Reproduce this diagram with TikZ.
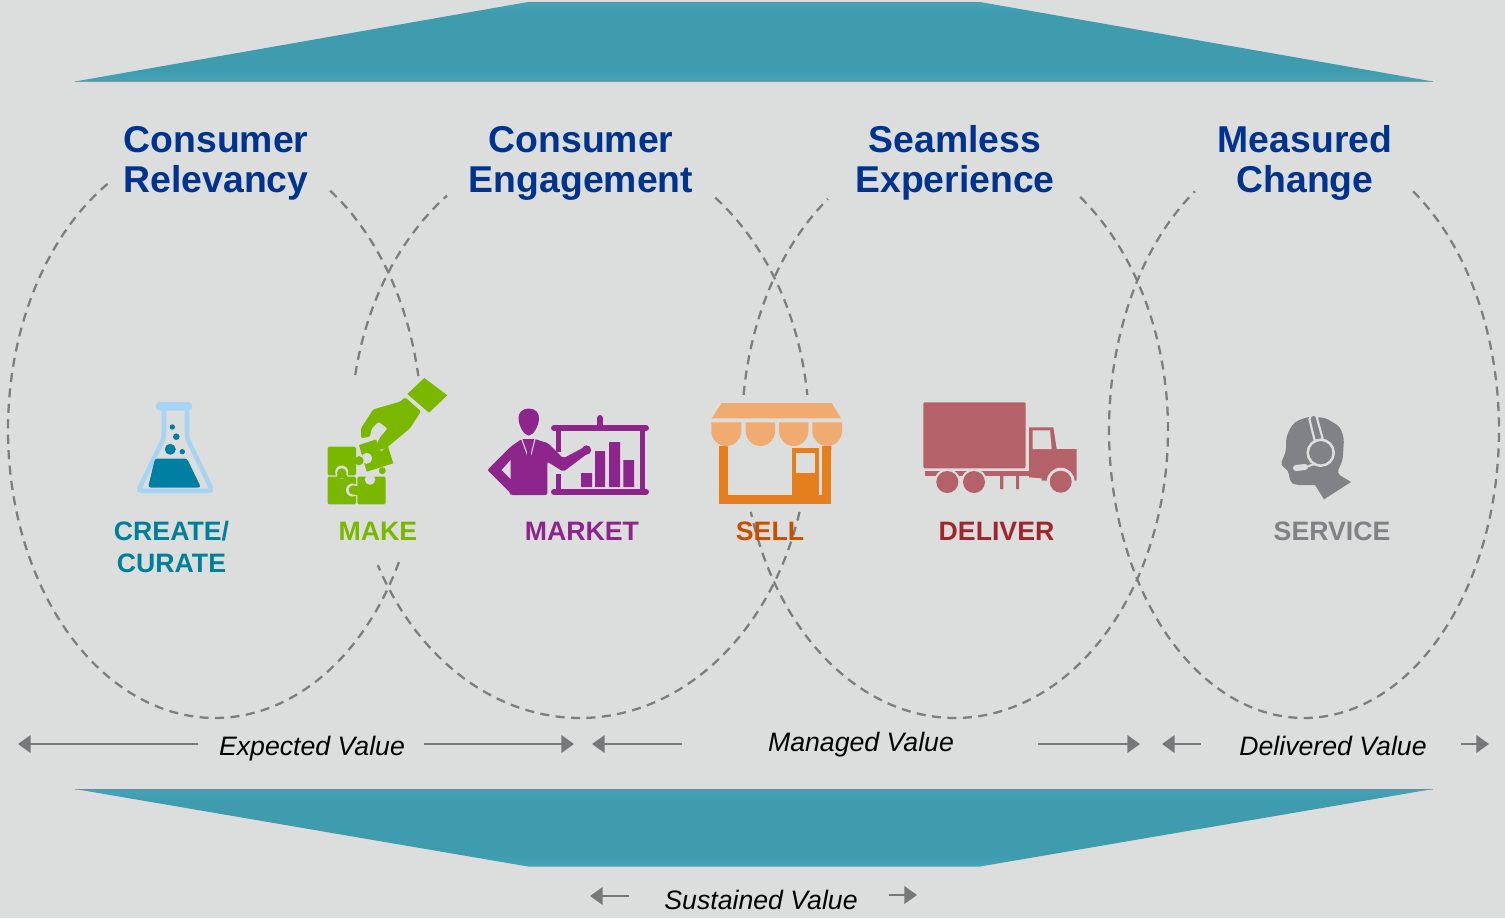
\documentclass[tikz,border=0pt]{standalone}
\usepackage{fontspec}
\setmainfont{Liberation Sans}
\usetikzlibrary{arrows.meta}
\definecolor{bgc}{HTML}{DCDEDD}
\definecolor{teal1}{HTML}{47A3B8}
\definecolor{teal2}{HTML}{3F9BAE}
\definecolor{titleblue}{HTML}{00338D}
\definecolor{dashc}{HTML}{7C7D7F}
\definecolor{arrc}{HTML}{77787A}
\definecolor{flaskl}{HTML}{A9D3F2}
\definecolor{flaskd}{HTML}{007FA3}
\definecolor{createc}{HTML}{007F9B}
\definecolor{makec}{HTML}{7AB800}
\definecolor{marketc}{HTML}{8E258D}
\definecolor{awningc}{HTML}{F0AC70}
\definecolor{shopc}{HTML}{E57F1E}
\definecolor{sellc}{HTML}{C94F00}
\definecolor{truckc}{HTML}{B56169}
\definecolor{deliverc}{HTML}{A0262E}
\definecolor{servc}{HTML}{808285}
\pgfdeclareverticalshading{bannershade}{100bp}{color(0bp)=(teal1); color(25bp)=(teal1); color(32bp)=(teal2); color(68bp)=(teal2); color(75bp)=(teal1); color(100bp)=(teal1)}
\tikzset{
  banner/.style={shading=bannershade,draw=none},
  edgeline/.style={draw=gray,opacity=.55,line width=.7pt},
  dashline/.style={draw=dashc,line width=1.7pt,dash pattern=on 6.8pt off 4.8pt},
  titletext/.style={font=\fontsize{28}{30}\selectfont\bfseries,text=titleblue,align=center,inner sep=0pt},
  steptext/.style={font=\fontsize{20}{24}\selectfont\bfseries,align=center,inner sep=0pt},
  valuetext/.style={font=\fontsize{20}{24}\selectfont\itshape,text=black,inner sep=0pt,anchor=base},
  valuearrow/.style={draw=arrc,line width=2pt,-{Triangle[length=9.5pt,width=13pt]}},
}
\begin{document}
\begin{tikzpicture}[x=.75pt,y=-.75pt]
\useasboundingbox (0,0) rectangle (1505,918);
\fill[bgc] (0,0) rectangle (1505,918);
% banners
\path[banner] (75,81.5) -- (528,2) -- (980,2) -- (1433,81.5) -- cycle;
\draw[edgeline] (75,81.5) -- (1433,81.5);
\draw[edgeline] (528,2) -- (980,2);
\path[banner] (75,789) -- (1433,789) -- (980,866.5) -- (528,866.5) -- cycle;
\draw[edgeline] (75,789) -- (1433,789);
% dashed ellipses
\draw[dashline] plot[domain=-56.2:-10.8,samples=40,variable=\t] ({215+207*cos(\t)},{430+288*sin(\t)});
\draw[dashline] plot[domain=27.3:238.9,samples=120,variable=\t] ({215+207*cos(\t)},{430+288*sin(\t)});
\draw[dashline] plot[domain=-53.8:-7,samples=40,variable=\t] ({580+229*cos(\t)},{430+288*sin(\t)});
\draw[dashline] plot[domain=16.5:152,samples=100,variable=\t] ({580+229*cos(\t)},{430+288*sin(\t)});
\draw[dashline] plot[domain=191:234.5,samples=40,variable=\t] ({580+229*cos(\t)},{430+288*sin(\t)});
\draw[dashline] plot[domain=-54:163.5,samples=140,variable=\t] ({955+213*cos(\t)},{430+288*sin(\t)});
\draw[dashline] plot[domain=187:233.4,samples=40,variable=\t] ({955+213*cos(\t)},{430+288*sin(\t)});
\draw[dashline] plot[domain=-56:236,samples=180,variable=\t] ({1304+195*cos(\t)},{430+288*sin(\t)});
% titles
\node[titletext] (t1) at (216,163) {Consumer\\Relevancy};
\node[titletext] (t2) at (581,163) {Consumer\\Engagement};
\node[titletext] (t3) at (955,163) {Seamless\\Experience};
\node[titletext] (t4) at (1305,163) {Measured\\Change};
% flask
\draw[flaskl,line width=3.4pt,rounded corners=3pt] (164,408) -- (164,438) -- (138,491) -- (212.5,491) -- (187,438) -- (187,408);
\fill[flaskl,rounded corners=3pt] (155.7,402) rectangle (192.3,410.7);
\fill[flaskd,rounded corners=2pt] (155,458.5) -- (187,458.5) -- (201,487.5) -- (148,487.5) -- cycle;
\fill[flaskd] (170.3,449.3) circle (5.5) (176.3,436.7) circle (3.3) (172.3,427) circle (2.7) (182.3,451.7) circle (2.7);
% make
\fill[makec] (424.3,378) -- (447.3,395.3) -- (429,412.7) -- (407.3,394) -- cycle;
\fill[makec,rounded corners=1.2pt] (405,397.3) -- (421,411.3) -- (410,428.3) -- (386,448.3) -- (380,450) -- (376.7,446) -- (379.3,438.3) -- (387.7,428.3) -- (378.3,421.7) -- (371.7,428.3) -- (370,436.7) -- (361,438.3) -- (361,428.3) -- (373.3,409.3) -- (400,401.7) -- cycle;
\fill[makec,rounded corners=1pt] (327.7,446.7) rectangle (356,475.3);
\fill[makec,rounded corners=1pt] (327.7,476.7) rectangle (356,504.3);
\fill[makec,rounded corners=1pt] (357.3,476.7) rectangle (385.7,504.3);
\fill[makec] (359,445) -- (376,439.5) -- (381,451.5) -- (388,446.5) -- (393.3,463.3) -- (366.7,471.7) -- cycle;
\fill[makec] (382.3,470.7) circle (3.5);
\fill[bgc] (366.7,458.3) circle (5.5);
\fill[makec] (359,460.7) circle (4.6);
\fill[bgc] (370,479.5) circle (5.3);
\fill[bgc] (341.7,472) circle (6.5);
\fill[makec] (341.7,473) circle (4.8);
\fill[makec] (337,475) rectangle (346.5,478);
\fill[bgc] (352.5,490) circle (6.5);
\fill[makec] (353.5,490) circle (4.8);
\fill[makec] (355,485.5) rectangle (358.5,494.5);
% market
\fill[marketc] (528.7,408.5) .. controls (522,408.5) and (518,413) .. (518.5,419) .. controls (519,426) and (524,435.5) .. (528.7,435.5) .. controls (533.4,435.5) and (538.5,426) .. (539,419) .. controls (539.5,413) and (535.4,408.5) .. (528.7,408.5) -- cycle;
\draw[marketc,line width=4.5pt,line cap=round] (554,428.3) -- (646,428.3) (554,491.7) -- (646,491.7) (600,418) -- (600,428);
\draw[marketc,line width=3.6pt] (558.3,428) -- (558.3,452) (558.3,474) -- (558.3,492) (642.3,428) -- (642.3,492);
\fill[marketc] (581,473) rectangle (592,487) (595,451) rectangle (605,487) (609,442) rectangle (620,487) (623.3,460) rectangle (634,487);
\fill[marketc,rounded corners=1.5pt] (487.3,470) -- (510.7,446.7) -- (521.7,439) -- (535,439) -- (548.3,443.3) -- (563.3,458.3) -- (585,446.7) -- (590,451.7) -- (563.3,471.7) -- (547.3,461.7) -- (547.3,495) -- (510.7,495) -- (510.7,493.3) -- cycle;
\fill[marketc] (586.5,450) circle (4.7);
\fill[bgc] (510.7,460) -- (501.7,470) -- (510.7,479) -- cycle;
\draw[bgc,line width=.8pt] (521.7,439) -- (527.5,455) (535,439) -- (531,455);
\fill[marketc] (527.3,444) -- (530.3,444) -- (531,455) -- (527,455) -- cycle;
% shop
\fill[shopc] (719,440) rectangle (831.3,503.7);
\fill[bgc] (727.7,440) rectangle (822.3,495);
\fill[shopc] (791.7,448.3) rectangle (819,495);
\fill[bgc] (796,452.7) rectangle (814.7,472.7);
\fill[bgc] (711,420) rectangle (842,447);
\fill[shopc] (719,446) rectangle (727.7,450) (822.3,446) rectangle (831.3,450);
\fill[awningc] (721.7,403) -- (831.7,403) -- (841,418.3) -- (711.7,418.3) -- cycle;
\fill[awningc] (711.3,422.3) -- (741.3,422.3) -- (741.3,431) arc[start angle=0,end angle=180,radius=15] -- cycle;
\fill[awningc] (745.7,422.3) -- (775,422.3) -- (775,431) arc[start angle=0,end angle=180,x radius=14.65,y radius=15] -- cycle;
\fill[awningc] (779,422.3) -- (808.3,422.3) -- (808.3,431) arc[start angle=0,end angle=180,x radius=14.65,y radius=15] -- cycle;
\fill[awningc] (812.3,422.3) -- (842,422.3) -- (842,431) arc[start angle=0,end angle=180,x radius=14.85,y radius=15] -- cycle;
% truck
\fill[truckc,rounded corners=1pt] (923.3,402.3) rectangle (1025.7,468.3);
\fill[truckc] (924.7,470.7) rectangle (1030,476);
\fill[truckc] (1029,427.3) -- (1053.3,427.3) -- (1056.7,449) -- (1076.7,449) -- (1076.7,480.7) -- (1041.7,480.7) -- (1041.7,478.3) -- (1029,477.3) -- cycle;
\fill[bgc] (1032.7,430.3) -- (1050,430.3) -- (1051.7,449) -- (1032.7,449) -- cycle;
\fill[truckc] (1000,476) rectangle (1003.3,489) (1016,476) rectangle (1019,489);
\fill[bgc] (947.3,482) circle (13.2) (974,482) circle (13.2) (1060.7,481.7) circle (14);
\fill[truckc] (947.3,482) circle (11) (974,482) circle (11) (1060.7,481.7) circle (11);
% service
\fill[servc,rounded corners=3pt] (1290,428.3) -- (1295,421.7) -- (1308.3,416.7) -- (1325,417.7) -- (1340,426.7) -- (1344,438.3) -- (1342.7,460) -- (1336.7,473.3) [sharp corners] -- (1351,482) -- (1324,499.3) -- (1315,485) [rounded corners=3pt] -- (1295,485) -- (1290,481.7) -- (1288.3,470) -- (1280,465) -- (1286,451.7) -- (1286,438.3) -- cycle;
\fill[servc,rounded corners=1.5pt,draw=bgc,line width=1.6pt] (1309,417.5) -- (1312,414.5) -- (1316,414.5) -- (1323,440) -- (1315,442) -- cycle;
\fill[servc] (1320.7,452.7) circle (12.5);
\draw[bgc,line width=1.9pt] (1320.7,452.7) circle (13);
\draw[bgc,line width=1.5pt] (1306,467) -- (1316,463.5);
\draw[bgc,line width=4.5pt,line cap=round] (1296,468) -- (1305,467);
% step labels
\node[steptext,text=createc] (l1) at (171.5,547) {CREATE/\\CURATE};
\node[steptext,text=makec] (l2) at (378,531) {MAKE};
\node[steptext,text=marketc] (l3) at (582,531) {MARKET};
\node[steptext,text=sellc] (l4) at (770,531) {SELL};
\node[steptext,text=deliverc] (l5) at (996.5,531) {DELIVER};
\node[steptext,text=servc] (l6) at (1332,531) {SERVICE};
% value labels
\node[valuetext] (v1) at (312,755) {Expected Value};
\node[valuetext] (v2) at (861,751) {Managed Value};
\node[valuetext] (v3) at (1333,755) {Delivered Value};
\node[valuetext] (v4) at (761,909) {Sustained Value};
% arrows
\coordinate (a1s) at (198,744); \coordinate (a1e) at (18,744);
\coordinate (a2s) at (424,744); \coordinate (a2e) at (574,744);
\coordinate (a3s) at (682,744); \coordinate (a3e) at (592,744);
\coordinate (a4s) at (1038,744); \coordinate (a4e) at (1140,744);
\coordinate (a5s) at (1201,744); \coordinate (a5e) at (1162,744);
\coordinate (a6s) at (1461,744); \coordinate (a6e) at (1489,744);
\coordinate (a7s) at (629,896); \coordinate (a7e) at (590,896);
\coordinate (a8s) at (889,895); \coordinate (a8e) at (917,895);
\draw[valuearrow] (a1s) -- (a1e);
\draw[valuearrow] (a2s) -- (a2e);
\draw[valuearrow] (a3s) -- (a3e);
\draw[valuearrow] (a4s) -- (a4e);
\draw[valuearrow] (a5s) -- (a5e);
\draw[valuearrow] (a6s) -- (a6e);
\draw[valuearrow] (a7s) -- (a7e);
\draw[valuearrow] (a8s) -- (a8e);
\end{tikzpicture}
\end{document}
